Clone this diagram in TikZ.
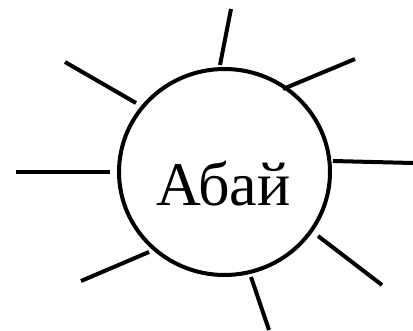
\documentclass[tikz,border=0pt]{standalone}
\usepackage{fontspec}
\setmainfont{Liberation Serif}
\usetikzlibrary{shapes.geometric}
\begin{document}
\begin{tikzpicture}[x=1pt,y=-1pt,
  ray/.style={line width=4pt},
  sun/.style={draw,line width=4pt,ellipse,minimum width=211pt,minimum height=206pt,inner sep=0pt}]
\useasboundingbox (0,0) rectangle (413,330);
\node[sun] (c) at (224.5,172) {};
\node[anchor=base,font=\fontsize{62}{62}\selectfont] (t) at (223.5,205) {Абай};
\coordinate (a1) at (220,65);  \coordinate (b1) at (231,9);
\coordinate (a2) at (283,89);  \coordinate (b2) at (355,59);
\coordinate (a3) at (333,161); \coordinate (b3) at (413,163);
\coordinate (a4) at (318,236); \coordinate (b4) at (382,285);
\coordinate (a5) at (251,277); \coordinate (b5) at (269,330);
\coordinate (a6) at (149,252); \coordinate (b6) at (81,281);
\coordinate (a7) at (110,172); \coordinate (b7) at (16,172);
\coordinate (a8) at (136,103); \coordinate (b8) at (65,62);
\foreach \i in {1,...,8} \draw[ray] (a\i) -- (b\i);
\end{tikzpicture}
\end{document}
